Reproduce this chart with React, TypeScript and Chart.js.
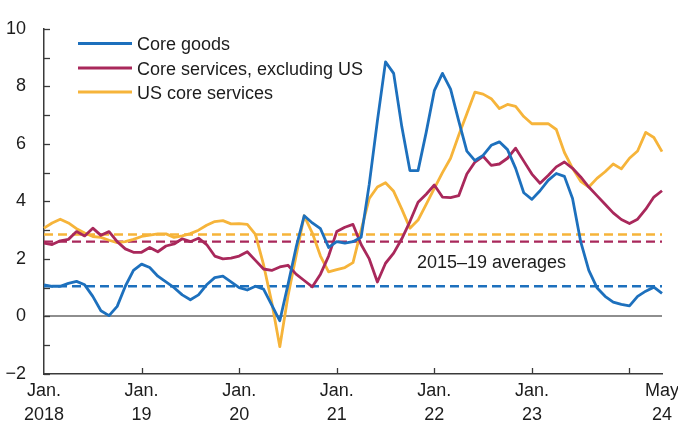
import React, { useEffect, useRef } from "react";
import { Chart, registerables } from "chart.js";

Chart.register(...registerables);

const MONTH_NAMES = ["Jan", "Feb", "Mar", "Apr", "May", "Jun", "Jul", "Aug", "Sep", "Oct", "Nov", "Dec"];
const months: string[] = [];
for (let y = 2018; y <= 2024; y++) {
  for (let m = 0; m < 12; m++) {
    if (y === 2024 && m > 4) break;
    months.push(`${MONTH_NAMES[m]} ${y}`);
  }
}

const coreGoods = [
  1.1, 1.05, 1.05, 1.15, 1.22, 1.1, 0.7, 0.2, 0.03, 0.35,
  1.05, 1.6, 1.82, 1.7, 1.4, 1.2, 1.0, 0.75, 0.58, 0.75,
  1.1, 1.35, 1.4, 1.2, 1.0, 0.92, 1.05, 0.95, 0.4, -0.15,
  1.1, 2.4, 3.5, 3.25, 3.05, 2.4, 2.6, 2.55, 2.6, 2.75,
  4.6, 6.8, 8.85, 8.45, 6.6, 5.07, 5.07, 6.4, 7.85, 8.45,
  7.9, 6.8, 5.75, 5.42, 5.6, 5.95, 6.07, 5.8, 5.15, 4.3,
  4.07, 4.37, 4.73, 4.97, 4.87, 4.1, 2.6, 1.6, 1.0, 0.7,
  0.5, 0.42, 0.37, 0.7, 0.88, 1.02, 0.8,
];

const coreServicesExUS = [
  2.55, 2.5, 2.63, 2.68, 2.95, 2.8, 3.07, 2.82, 2.95, 2.6,
  2.35, 2.23, 2.23, 2.4, 2.25, 2.45, 2.52, 2.7, 2.6, 2.72,
  2.5, 2.1, 2.0, 2.03, 2.1, 2.25, 1.95, 1.65, 1.6, 1.72,
  1.78, 1.47, 1.25, 1.03, 1.47, 2.1, 2.95, 3.1, 3.2, 2.5,
  2.0, 1.2, 1.85, 2.2, 2.7, 3.3, 3.97, 4.25, 4.57, 4.15,
  4.13, 4.2, 4.95, 5.37, 5.57, 5.25, 5.3, 5.5, 5.85, 5.4,
  4.95, 4.63, 4.9, 5.2, 5.37, 5.15, 4.85, 4.5, 4.2, 3.9,
  3.6, 3.37, 3.23, 3.38, 3.73, 4.15, 4.37,
];

const usCoreServices = [
  3.07, 3.25, 3.38, 3.25, 3.05, 2.9, 2.78, 2.75, 2.65, 2.57,
  2.6, 2.68, 2.78, 2.83, 2.87, 2.87, 2.75, 2.8, 2.88, 3.0,
  3.17, 3.3, 3.33, 3.22, 3.23, 3.2, 2.85, 1.8, 0.5, -1.05,
  0.7, 2.1, 3.5, 2.9, 2.1, 1.55, 1.63, 1.7, 1.87, 3.0,
  4.1, 4.5, 4.65, 4.35, 3.73, 3.07, 3.35, 3.9, 4.45, 5.0,
  5.5, 6.3, 7.05, 7.8, 7.73, 7.57, 7.23, 7.37, 7.3, 6.95,
  6.7, 6.7, 6.7, 6.5, 5.7, 5.15, 4.7, 4.5, 4.8, 5.03,
  5.3, 5.13, 5.5, 5.75, 6.4, 6.22, 5.73,
];

const avgCoreGoods = 1.05;
const avgCoreServicesExUS = 2.6;
const avgUSCoreServices = 2.85;

const seriesNames = ["Core goods", "Core services, excluding US", "US core services"];
const averagesLabel = "2015\u201319 averages";

const xTickMonths = ["Jan 2018", "Jan 2019", "Jan 2020", "Jan 2021", "Jan 2022", "Jan 2023", "May 2024"];
const xTickLabels = [
  ["Jan.", "2018"],
  ["Jan.", "19"],
  ["Jan.", "20"],
  ["Jan.", "21"],
  ["Jan.", "22"],
  ["Jan.", "23"],
  ["May", "24"],
];
const xTickMarkMonths = ["Jan 2019", "Jan 2020", "Jan 2021", "Jan 2022", "Jan 2023", "Jan 2024"];

const BLUE = "#1d70bd";
const RED = "#a9285b";
const YELLOW = "#f6b43a";
const AXIS = "#3a3a3a";
const TEXT = "#1c1c1c";
const FONT = "'Liberation Sans', Arial, sans-serif";

const overlayPlugin = {
  id: "overlay",
  afterDraw(chart: any) {
    const { ctx, chartArea } = chart;
    const xs = chart.scales.x;
    const ys = chart.scales.y;
    ctx.save();
    // inward tick marks
    ctx.strokeStyle = AXIS;
    ctx.lineWidth = 1.3;
    for (let v = -2; v <= 10; v++) {
      const py = Math.round(ys.getPixelForValue(v)) + 0.5;
      ctx.beginPath();
      ctx.moveTo(chartArea.left, py);
      ctx.lineTo(chartArea.left + 6, py);
      ctx.stroke();
    }
    for (const m of xTickMarkMonths) {
      const idx = months.indexOf(m);
      const px = Math.round(xs.getPixelForValue(idx)) + 0.5;
      ctx.beginPath();
      ctx.moveTo(px, chartArea.bottom);
      ctx.lineTo(px, chartArea.bottom - 6);
      ctx.stroke();
    }
    // legend
    ctx.font = `18px ${FONT}`;
    ctx.textBaseline = "alphabetic";
    ctx.textAlign = "left";
    const rows = [43.5, 68, 92];
    chart.data.datasets.slice(0, 3).forEach((ds: any, i: number) => {
      ctx.strokeStyle = ds.borderColor;
      ctx.lineWidth = 2.8;
      ctx.beginPath();
      ctx.moveTo(78, rows[i]);
      ctx.lineTo(132, rows[i]);
      ctx.stroke();
      ctx.fillStyle = TEXT;
      ctx.fillText(ds.label, 137, rows[i] + 6.5);
    });
    // averages annotation
    ctx.fillStyle = TEXT;
    ctx.fillText(averagesLabel, 417, 268);
    ctx.restore();
  },
};

export default function App() {
  const ref = useRef<HTMLCanvasElement | null>(null);
  useEffect(() => {
    if (!ref.current) return;
    const line = (label: string, data: number[], color: string, order: number) => ({
      label,
      data,
      borderColor: color,
      backgroundColor: color,
      borderWidth: 2.8,
      pointRadius: 0,
      tension: 0,
      borderJoinStyle: "round" as const,
      order,
    });
    const dashed = (label: string, value: number, color: string) => ({
      label,
      data: months.map(() => value),
      borderColor: color,
      backgroundColor: color,
      borderWidth: 2.4,
      borderDash: [9, 5],
      pointRadius: 0,
      order: 10,
    });
    const chart = new Chart(ref.current, {
      type: "line",
      data: {
        labels: months,
        datasets: [
          line(seriesNames[0], coreGoods, BLUE, 0),
          line(seriesNames[1], coreServicesExUS, RED, 1),
          line(seriesNames[2], usCoreServices, YELLOW, 2),
          dashed("Core goods average", avgCoreGoods, BLUE),
          dashed("Core services, excluding US average", avgCoreServicesExUS, RED),
          dashed("US core services average", avgUSCoreServices, YELLOW),
        ],
      },
      options: {
        responsive: false,
        animation: false,
        events: [],
        layout: { padding: { top: 14, right: 16, left: 0, bottom: 0 } },
        plugins: {
          legend: { display: false },
          tooltip: { enabled: false },
        },
        scales: {
          x: {
            type: "category",
            offset: false,
            grid: { display: true, drawOnChartArea: false, drawTicks: false, color: "rgba(0,0,0,0)" },
            border: { display: true, color: AXIS, width: 1.5 },
            ticks: {
              autoSkip: false,
              maxRotation: 0,
              minRotation: 0,
              padding: 6,
              color: TEXT,
              font: { family: FONT, size: 18, lineHeight: 1.28 },
              callback: function (this: any, val: any, idx: number) {
                const k = xTickMonths.indexOf(months[idx]);
                return k >= 0 ? xTickLabels[k] : "";
              },
            },
            afterFit: (scale: any) => {
              scale.height = 59;
              scale.paddingLeft = 0;
              scale.paddingRight = 0;
            },
          },
          y: {
            min: -2,
            max: 10,
            grid: {
              drawTicks: false,
              color: (c: any) => (c.tick && c.tick.value === 0 ? "#8e8e8e" : "rgba(0,0,0,0)"),
              lineWidth: 2,
            },
            border: { display: true, color: AXIS, width: 1.5 },
            ticks: {
              stepSize: 1,
              padding: 18,
              color: TEXT,
              font: { family: FONT, size: 18 },
              callback: (v: any) => {
                const n = Number(v);
                if (n % 2 !== 0) return "";
                return n < 0 ? "\u2212" + Math.abs(n) : String(n);
              },
            },
            afterFit: (scale: any) => {
              scale.width = 44;
            },
          },
        },
      },
      plugins: [overlayPlugin],
    });
    return () => chart.destroy();
  }, []);
  return (
    <div style={{ position: "absolute", left: 0, top: 0, width: 678, height: 433, background: "#fff" }}>
      <canvas ref={ref} width={678} height={433} style={{ display: "block" }} />
    </div>
  );
}
